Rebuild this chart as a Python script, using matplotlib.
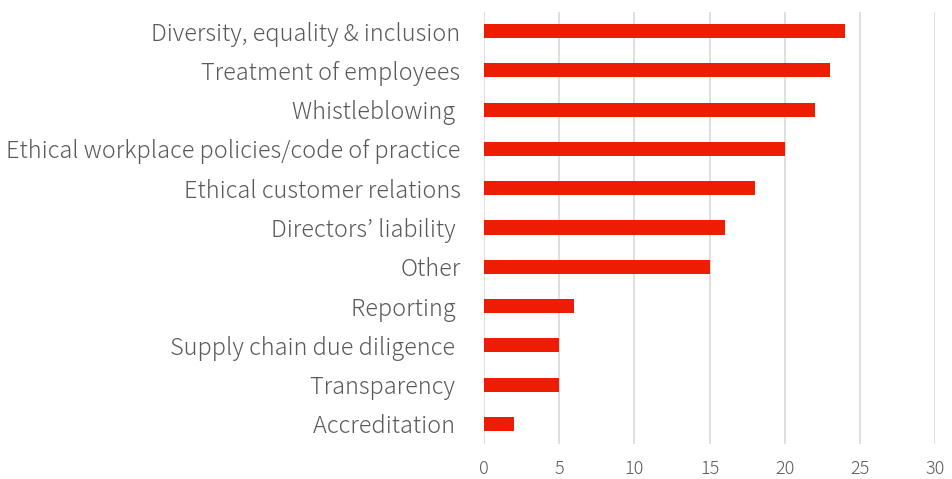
import matplotlib.pyplot as plt

categories = [
    "Diversity, equality & inclusion",
    "Treatment of employees",
    "Whistleblowing ",
    "Ethical workplace policies/code of practice",
    "Ethical customer relations",
    "Directors\u2019 liability ",
    "Other",
    "Reporting ",
    "Supply chain due diligence ",
    "Transparency ",
    "Accreditation ",
]
values = [24, 23, 22, 20, 18, 16, 15, 6, 5, 5, 2]
xticks = [0, 5, 10, 15, 20, 25, 30]

plt.rcParams['font.family'] = ['Noto Sans CJK JP', 'DejaVu Sans']

fig = plt.figure(figsize=(9.52, 4.79), dpi=100)
ax = fig.add_axes([484 / 952, 1 - 443.5 / 479, 451 / 952, 432 / 479])

ypos = list(range(len(categories)))[::-1]
ax.barh(ypos, values, height=0.36, color='#EE1C03', zorder=3)

ax.set_xlim(0, 30)
ax.set_ylim(-0.5, len(categories) - 0.5)
ax.set_xticks(xticks)
ax.set_xticklabels([str(t) for t in xticks], fontsize=13, color='#595959',
                   fontweight='light')
ax.set_yticks(ypos)
ax.set_yticklabels(categories, fontsize=16.9, color='#595959',
                   fontweight='light')
ax.tick_params(axis='both', length=0)
ax.tick_params(axis='y', pad=17)
ax.tick_params(axis='x', pad=12)

ax.grid(axis='x', color='#D9D9D9', linewidth=1.2, zorder=0)
for s in ax.spines.values():
    s.set_visible(False)

fig.savefig('out.png', dpi=100)
